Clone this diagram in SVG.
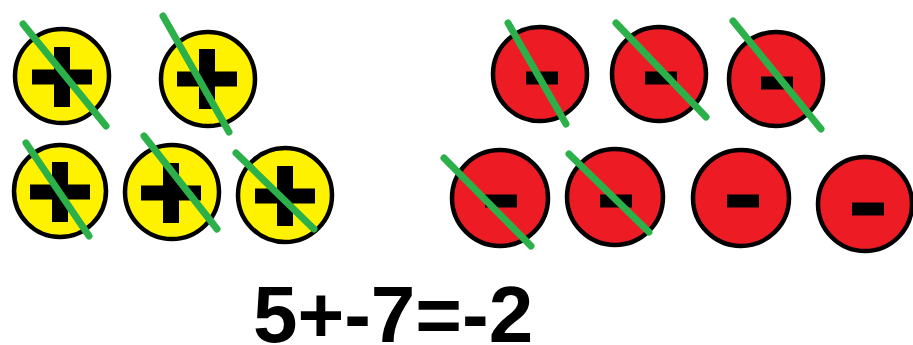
<svg xmlns="http://www.w3.org/2000/svg" width="913" height="345" viewBox="0 0 913 345">
<style>
.pos{fill:#fff200;stroke:#000;stroke-width:4.5}
.neg{fill:#ed1c24;stroke:#000;stroke-width:4.5}
.sign{fill:#000}
.cross{stroke:#2bb04a;stroke-width:7;stroke-linecap:round}
.eq{font-family:"Liberation Sans",Arial,sans-serif;font-weight:bold;font-size:80px;fill:#000}
</style>
<defs>
<g id="plus"><rect x="-30" y="-7.5" width="60" height="15" class="sign"/><rect x="-8" y="-30" width="16" height="60" class="sign"/></g>
<rect id="minus" x="-16" y="-6.5" width="32" height="13" class="sign"/>
</defs>
<rect width="913" height="345" fill="#fff"/>
<g id="p1"><circle cx="62" cy="76" r="47" class="pos"/><use href="#plus" x="62" y="77"/></g>
<g id="p2"><circle cx="208" cy="79" r="47" class="pos"/><use href="#plus" x="207" y="79"/></g>
<g id="p3"><circle cx="60" cy="191" r="46" class="pos"/><use href="#plus" x="60" y="192"/></g>
<g id="p4"><circle cx="172" cy="192" r="47" class="pos"/><use href="#plus" x="171" y="193"/></g>
<g id="p5"><circle cx="285" cy="195" r="47" class="pos"/><use href="#plus" x="285" y="196"/></g>
<g id="n1"><circle cx="540" cy="74" r="47" class="neg"/><use href="#minus" x="542" y="78"/></g>
<g id="n2"><circle cx="659" cy="74" r="47" class="neg"/><use href="#minus" x="661" y="78"/></g>
<g id="n3"><circle cx="776" cy="79" r="47" class="neg"/><use href="#minus" x="777" y="83"/></g>
<g id="n4"><circle cx="500" cy="198" r="48" class="neg"/><use href="#minus" x="501" y="201"/></g>
<g id="n5"><circle cx="615" cy="197" r="48" class="neg"/><use href="#minus" x="616" y="201"/></g>
<g id="n6"><circle cx="741" cy="198" r="48" class="neg"/><use href="#minus" x="743" y="201"/></g>
<g id="n7"><circle cx="865" cy="204" r="47" class="neg"/><use href="#minus" x="868" y="209"/></g>
<g id="crosses">
<line x1="23" y1="24" x2="106" y2="126" class="cross"/>
<line x1="163" y1="16" x2="229" y2="132" class="cross"/>
<line x1="26" y1="143" x2="89" y2="236" class="cross"/>
<line x1="144" y1="136" x2="217" y2="229" class="cross"/>
<line x1="236" y1="153" x2="314" y2="229" class="cross"/>
<line x1="508" y1="23" x2="566" y2="124" class="cross"/>
<line x1="616" y1="23" x2="706" y2="117" class="cross"/>
<line x1="733" y1="21" x2="821" y2="129" class="cross"/>
<line x1="444" y1="158" x2="531" y2="246" class="cross"/>
<line x1="569" y1="154" x2="649" y2="232" class="cross"/>
</g>
<text x="253" y="342" class="eq">5+-7=-2</text>
</svg>
